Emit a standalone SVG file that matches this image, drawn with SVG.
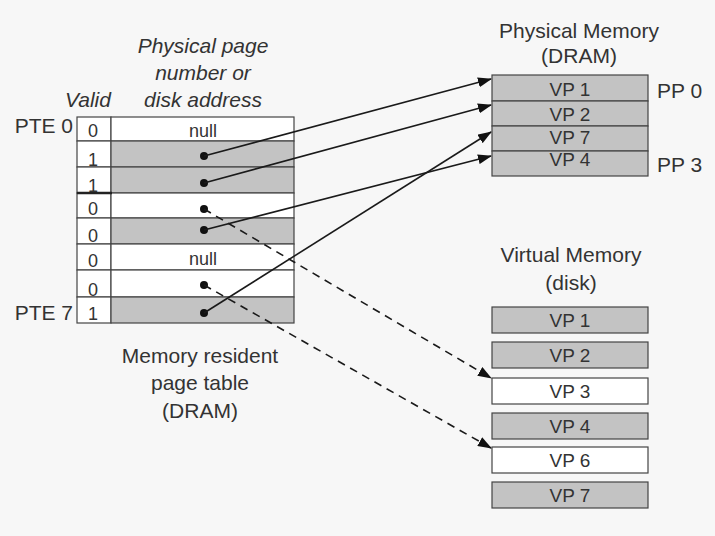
<svg xmlns="http://www.w3.org/2000/svg" width="715" height="536" viewBox="0 0 715 536">
<defs>
<marker id="ah" markerWidth="14" markerHeight="10" refX="13" refY="5" orient="auto" markerUnits="userSpaceOnUse">
<path d="M0,0 L14,5 L0,10 Z" fill="#111"/>
</marker>
<style>
.lbl{font-family:"Liberation Sans",Arial,sans-serif;font-size:21px;fill:#333}
.it{font-style:italic}
.mid{text-anchor:middle}
.end{text-anchor:end}
.cell{font-family:"Liberation Sans",Arial,sans-serif;font-size:18px;fill:#333}
.vp{font-family:"Liberation Sans",Arial,sans-serif;font-size:19px;fill:#333;text-anchor:middle}
.sh{fill:#c3c3c3;stroke:#444;stroke-width:1.2}
.wh{fill:#ffffff;stroke:#444;stroke-width:1.2}
.ln{stroke:#1a1a1a;stroke-width:1.6;fill:none}
.dash{stroke-dasharray:8,6}
.dot{fill:#111}
</style>
</defs>
<rect width="715" height="536" fill="#f7f7f7"/>

<g id="page-table-labels">
<text class="lbl it mid" x="203" y="53">Physical page</text>
<text class="lbl it mid" x="203" y="80">number or</text>
<text class="lbl it mid" x="203" y="107">disk address</text>
<text class="lbl it mid" x="88" y="107">Valid</text>
<text class="lbl end" x="73" y="133">PTE 0</text>
<text class="lbl end" x="73" y="320">PTE 7</text>
<text class="lbl mid" x="200" y="363">Memory resident</text>
<text class="lbl mid" x="200" y="390">page table</text>
<text class="lbl mid" x="200" y="418">(DRAM)</text>
</g>

<g id="page-table">
<rect class="wh" x="77" y="117" width="34" height="24"/><rect class="wh" x="111" y="117" width="183" height="24"/>
<rect class="wh" x="77" y="141" width="34" height="26"/><rect class="sh" x="111" y="141" width="183" height="26"/>
<rect class="wh" x="77" y="167" width="34" height="26"/><rect class="sh" x="111" y="167" width="183" height="26"/>
<rect class="wh" x="77" y="193" width="34" height="25"/><rect class="wh" x="111" y="193" width="183" height="25"/>
<rect class="wh" x="77" y="218" width="34" height="26"/><rect class="sh" x="111" y="218" width="183" height="26"/>
<rect class="wh" x="77" y="244" width="34" height="26"/><rect class="wh" x="111" y="244" width="183" height="26"/>
<rect class="wh" x="77" y="270" width="34" height="27"/><rect class="wh" x="111" y="270" width="183" height="27"/>
<rect class="wh" x="77" y="297" width="34" height="26"/><rect class="sh" x="111" y="297" width="183" height="26"/>
<line x1="77" y1="193" x2="112" y2="193" stroke="#222" stroke-width="2.5"/>
<text class="cell" x="88" y="137">0</text>
<text class="cell" x="88" y="166">1</text>
<text class="cell" x="88" y="192">1</text>
<text class="cell" x="88" y="215">0</text>
<text class="cell" x="88" y="242">0</text>
<text class="cell" x="88" y="267">0</text>
<text class="cell" x="88" y="296">0</text>
<text class="cell" x="88" y="320">1</text>
<text class="cell mid" x="203" y="137">null</text>
<text class="cell mid" x="203" y="265">null</text>
<circle class="dot" cx="204" cy="156" r="4"/>
<circle class="dot" cx="204" cy="183" r="4"/>
<circle class="dot" cx="204" cy="209" r="4"/>
<circle class="dot" cx="204" cy="230" r="4"/>
<circle class="dot" cx="204" cy="285" r="4"/>
<circle class="dot" cx="204" cy="313" r="4"/>
</g>

<g id="physical-memory">
<text class="lbl mid" x="579" y="38">Physical Memory</text>
<text class="lbl mid" x="579" y="63">(DRAM)</text>
<rect class="sh" x="492" y="75" width="156" height="26"/>
<rect class="sh" x="492" y="101" width="156" height="25"/>
<rect class="sh" x="492" y="126" width="156" height="25"/>
<rect class="sh" x="492" y="151" width="156" height="25"/>
<text class="vp" x="570" y="96">VP 1</text>
<text class="vp" x="570" y="121">VP 2</text>
<text class="vp" x="570" y="144">VP 7</text>
<text class="vp" x="570" y="166">VP 4</text>
<text class="lbl" x="657" y="98">PP 0</text>
<text class="lbl" x="657" y="172">PP 3</text>
</g>

<g id="virtual-memory">
<text class="lbl mid" x="571" y="262">Virtual Memory</text>
<text class="lbl mid" x="571" y="290">(disk)</text>
<rect class="sh" x="492" y="307" width="156" height="26"/>
<rect class="sh" x="492" y="342" width="156" height="26"/>
<rect class="wh" x="492" y="378" width="156" height="26"/>
<rect class="sh" x="492" y="413" width="156" height="26"/>
<rect class="wh" x="492" y="447" width="156" height="26"/>
<rect class="sh" x="492" y="482" width="156" height="26"/>
<text class="vp" x="570" y="327">VP 1</text>
<text class="vp" x="570" y="362">VP 2</text>
<text class="vp" x="570" y="398">VP 3</text>
<text class="vp" x="570" y="433">VP 4</text>
<text class="vp" x="570" y="467">VP 6</text>
<text class="vp" x="570" y="502">VP 7</text>
</g>

<g id="connectors">
<line class="ln" x1="204" y1="156" x2="491" y2="79" marker-end="url(#ah)"/>
<line class="ln" x1="204" y1="183" x2="491" y2="105" marker-end="url(#ah)"/>
<line class="ln" x1="204" y1="230" x2="491" y2="156" marker-end="url(#ah)"/>
<line class="ln" x1="204" y1="313" x2="491" y2="132" marker-end="url(#ah)"/>
<line class="ln dash" x1="204" y1="209" x2="491" y2="378" marker-end="url(#ah)"/>
<line class="ln dash" x1="204" y1="285" x2="491" y2="448" marker-end="url(#ah)"/>
</g>
</svg>
